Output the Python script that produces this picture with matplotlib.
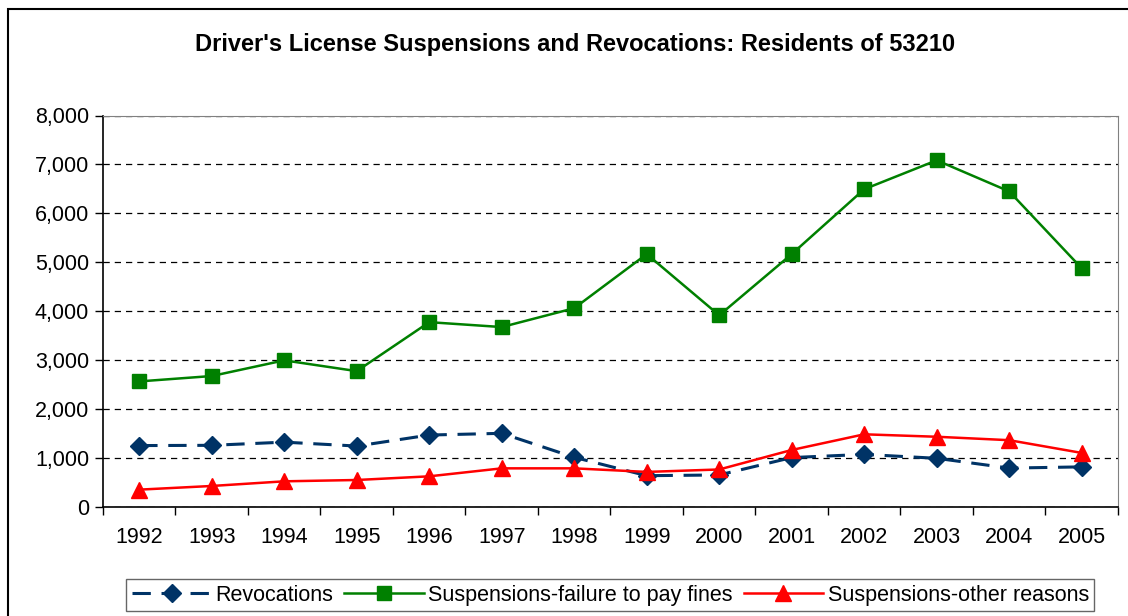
import matplotlib
matplotlib.use('Agg')
import matplotlib.pyplot as plt
from matplotlib.patches import Rectangle
from matplotlib.ticker import FuncFormatter, FixedLocator

plt.rcParams['font.family'] = ['Liberation Sans', 'DejaVu Sans']

# Data
years = ['1992', '1993', '1994', '1995', '1996', '1997', '1998',
         '1999', '2000', '2001', '2002', '2003', '2004', '2005']
revocations = [1260, 1265, 1330, 1250, 1475, 1510, 1020,
               645, 660, 1015, 1080, 1000, 800, 825]
susp_fines = [2570, 2680, 3000, 2780, 3780, 3680, 4065,
              5170, 3920, 5170, 6495, 7085, 6450, 4880]
susp_other = [360, 435, 530, 557, 632, 795, 795,
              722, 772, 1170, 1490, 1440, 1370, 1110]

fig = plt.figure(figsize=(11.28, 6.16), dpi=100)
ax = fig.add_axes([0.0913, 0.1765, 0.9911 - 0.0913, 0.8125 - 0.1765])

x = list(range(len(years)))
ax.plot(x, revocations, color='#003366', lw=2.2, ls=(0, (6, 3.5)),
        marker='D', ms=9, mec='#003366', mfc='#003366', label='Revocations')
ax.plot(x, susp_fines, color='#008000', lw=1.8,
        marker='s', ms=10, mec='#008000', mfc='#008000',
        label='Suspensions-failure to pay fines')
ax.plot(x, susp_other, color='#FF0000', lw=1.8,
        marker='^', ms=11, mec='#FF0000', mfc='#FF0000',
        label='Suspensions-other reasons')

ax.set_xlim(-0.5, len(years) - 0.5)
ax.set_ylim(0, 8000)
ax.set_yticks(range(0, 8001, 1000))
ax.yaxis.set_major_formatter(FuncFormatter(lambda v, p: '{:,.0f}'.format(v)))
ax.set_xticks(x)
ax.set_xticklabels(years)
ax.xaxis.set_minor_locator(FixedLocator([i - 0.5 for i in range(len(years) + 1)]))
ax.tick_params(axis='x', which='major', length=0, pad=14, labelsize=15.5)
ax.tick_params(axis='x', which='minor', length=6, width=1, color='black')
ax.tick_params(axis='y', length=6, width=1, pad=4, labelsize=15.5)

ax.yaxis.grid(True, color='black', ls=(0, (5, 4)), lw=0.9)
ax.set_axisbelow(True)
for side in ['top', 'right']:
    ax.spines[side].set_color('#808080')
for side in ['left', 'bottom']:
    ax.spines[side].set_color('black')
    ax.spines[side].set_linewidth(1.2)

fig.text(0.510, 0.928, "Driver's License Suspensions and Revocations: Residents of 53210",
         ha='center', va='center', fontsize=17, fontweight='bold')

leg = fig.legend(loc='center', bbox_to_anchor=(0.541, 0.034), ncol=3,
                 fontsize=15.5, frameon=True, fancybox=False, handlelength=3.7,
                 handletextpad=0.2, columnspacing=0.5, borderpad=0.25,
                 borderaxespad=0)
leg.get_frame().set_edgecolor('#404040')
leg.get_frame().set_linewidth(1)

# outer chart frame
fig.patches.append(Rectangle((8 / 1128, -0.05), 1.2, 1.05 - 9 / 616,
                             transform=fig.transFigure, fill=False,
                             edgecolor='black', lw=1.5))

fig.savefig('out.png', dpi=100)
